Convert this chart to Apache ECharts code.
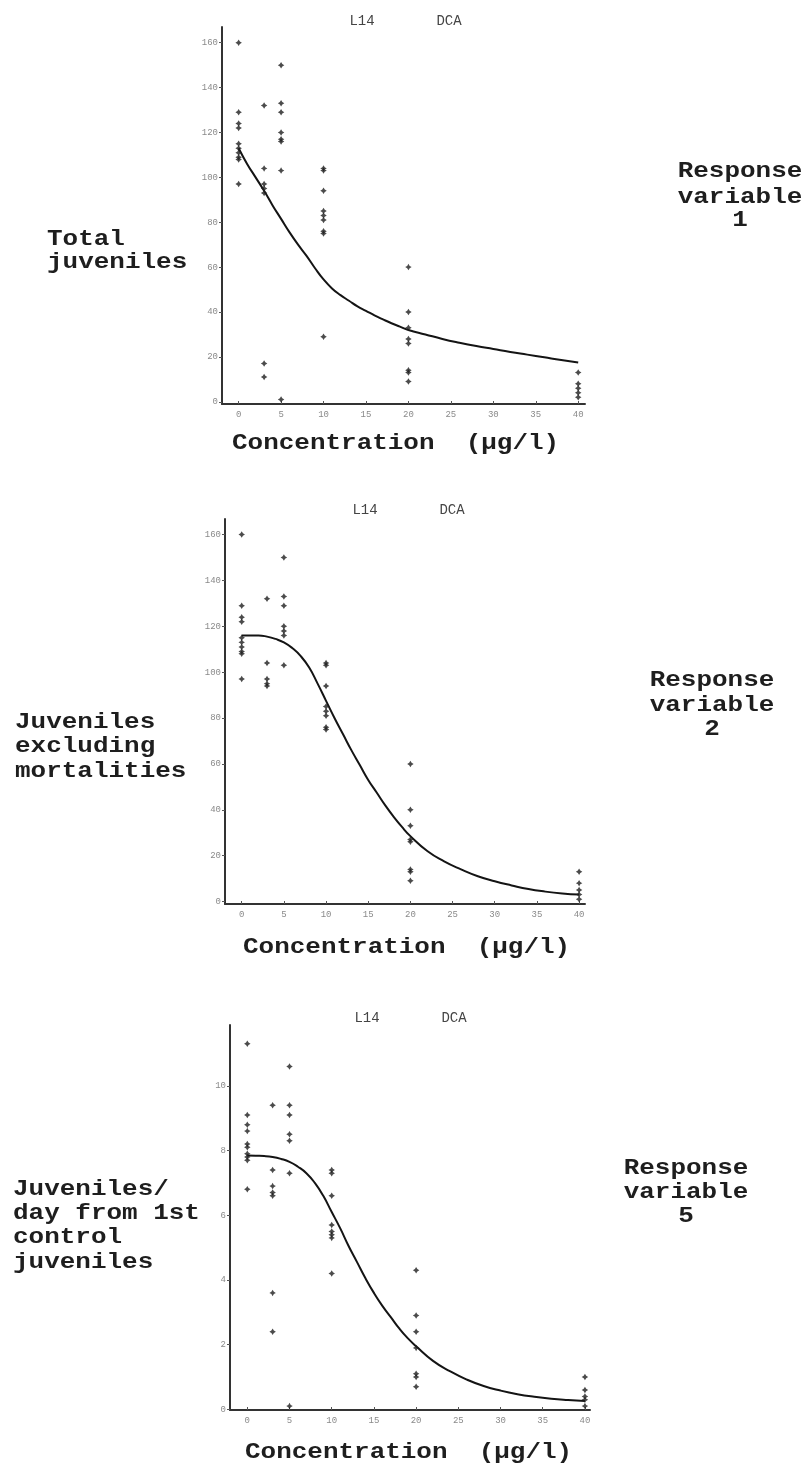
<!DOCTYPE html>
<html>
<head>
<meta charset="utf-8">
<title>L14 DCA concentration response</title>
<script src="https://cdn.jsdelivr.net/npm/echarts@6/dist/echarts.min.js"></script>
<style>
  html, body { margin: 0; padding: 0; background: #ffffff; }
  #chart { width: 809px; height: 1465px; }
</style>
</head>
<body>
<div id="chart"></div>
<script>
// Test concentrations (µg/l); each row of a response array holds the replicates at one level
const concLevels = [0, 3, 5, 10, 20, 40];

// Response variable 1: total juveniles
const totalJuveniles = [
  [160, 129, 124, 122, 115, 113, 111, 109, 108, 97],
  [132, 104, 97, 95, 93, 17, 11],
  [150, 133, 129, 120, 117, 116, 103, 1],
  [104, 103, 94, 85, 83, 81, 76, 75, 29],
  [60, 40, 33, 28, 26, 14, 13, 9],
  [13, 8, 6, 4, 2]
];

// Response variable 2: juveniles excluding mortalities
const juvExclMortality = [
  [160, 129, 124, 122, 115, 113, 111, 109, 108, 97],
  [132, 104, 97, 95, 94],
  [150, 133, 129, 120, 118, 116, 103],
  [104, 103, 94, 85, 83, 81, 76, 75],
  [60, 40, 33, 27, 26, 14, 13, 9],
  [13, 8, 5, 3, 1]
];

// Response variable 5: juveniles/day from 1st control juveniles
const juvPerDay = [
  [11.3, 9.1, 8.8, 8.6, 8.2, 8.1, 7.9, 7.8, 7.7, 6.8],
  [9.4, 7.4, 6.9, 6.7, 6.6, 3.6, 2.4],
  [10.6, 9.4, 9.1, 8.5, 8.3, 7.3, 0.1],
  [7.4, 7.3, 6.6, 5.7, 5.5, 5.4, 5.3, 4.2],
  [4.3, 2.9, 2.4, 1.9, 1.1, 1.0, 0.7],
  [1.0, 0.6, 0.4, 0.3, 0.1]
];

// Fitted concentration-response curves, sampled at these concentrations
const curveConc = [0, 1, 2, 3, 4, 5, 6, 7, 8, 9, 10, 11, 12, 13, 14, 15, 16, 17, 18, 19, 20,
                   22, 24, 26, 28, 30, 32, 34, 36, 38, 40];
const curveTotal = [113, 106, 100, 94, 87.5, 81.5, 75.5, 70, 65, 59.5, 54.5, 50.5, 47.5, 45, 42.5,
                    40.5, 38.5, 36.7, 35, 33.5, 32, 30, 28, 26.3, 24.8, 23.5, 22.2, 21, 19.8, 18.6, 17.5];
const curveExcl = [116, 116, 116, 115.5, 114.5, 113, 110.5, 107, 102, 95, 87.5, 80, 73, 66, 59.5,
                   53, 47.5, 42, 37, 32.5, 28.5, 22, 17.5, 14, 11, 8.8, 7, 5.4, 4.3, 3.5, 3];
const curvePerDay = [7.85, 7.84, 7.83, 7.8, 7.74, 7.65, 7.5, 7.3, 7.0, 6.6, 6.1, 5.6, 5.05, 4.55, 4.05,
                     3.6, 3.2, 2.85, 2.5, 2.2, 1.95, 1.5, 1.18, 0.92, 0.72, 0.58, 0.47, 0.39, 0.33, 0.29, 0.26];

// Tick labels
const concTicks = [0, 5, 10, 15, 20, 25, 30, 35, 40];
const countTicks = [0, 20, 40, 60, 80, 100, 120, 140, 160];
const rateTicks = [0, 2, 4, 6, 8, 10];

// Text blocks
const headerLeft = 'L14';
const headerRight = 'DCA';
const xTitle = 'Concentration  (µg/l)';
const yTitles = [
  ['Total', 'juveniles'],
  ['Juveniles', 'excluding', 'mortalities'],
  ['Juveniles/', 'day from 1st', 'control', 'juveniles']
];
const responseLabels = [
  ['Response', 'variable', '1'],
  ['Response', 'variable', '2'],
  ['Response', 'variable', '5']
];

const chart = echarts.init(document.getElementById('chart'), null, { renderer: 'canvas' });

const ink = '#1e1e1e';
// Wide typewriter lettering: a slightly smaller mono face stretched horizontally
const bigFont = 'bold 22px "Liberation Mono", "DejaVu Sans Mono", monospace';
const bigStretch = 1.18;
const headFont = '14px "Liberation Mono", "DejaVu Sans Mono", monospace';

function scatterData(values) {
  const out = [];
  values.forEach((row, i) => row.forEach(v => out.push([concLevels[i], v])));
  return out;
}
function curveData(ys) {
  return curveConc.map((x, i) => [x, ys[i]]);
}

// Panel geometry
const panels = [
  { grid: { left: 222, top: 27, width: 363, height: 377 }, x: [-1.96, 40.8], y: [-1, 167], yTicks: countTicks,
    pts: totalJuveniles, curve: curveTotal },
  { grid: { left: 225, top: 519, width: 360, height: 385 }, x: [-1.98, 40.7], y: [-1.1, 166.8], yTicks: countTicks,
    pts: juvExclMortality, curve: curveExcl },
  { grid: { left: 230, top: 1025, width: 360, height: 385 }, x: [-2.05, 40.6], y: [-0.02, 11.88], yTicks: rateTicks,
    pts: juvPerDay, curve: curvePerDay }
];

const tickLabelStyle = { color: '#8a8a8a', fontSize: 9, fontFamily: '"Liberation Mono", monospace' };
const axisLineStyle = { color: '#333333', width: 2 };

const option = {
  backgroundColor: '#ffffff',
  animation: false,
  grid: panels.map(p => Object.assign({ containLabel: false }, p.grid)),
  xAxis: panels.map((p, i) => ({
    type: 'value', gridIndex: i, min: p.x[0], max: p.x[1],
    axisLine: { show: true, onZero: false, lineStyle: axisLineStyle },
    axisTick: { show: true, inside: true, length: 3, customValues: concTicks, lineStyle: { color: '#555', width: 1 } },
    axisLabel: Object.assign({ margin: 6, customValues: concTicks }, tickLabelStyle),
    splitLine: { show: false }
  })),
  yAxis: panels.map((p, i) => ({
    type: 'value', gridIndex: i, min: p.y[0], max: p.y[1],
    axisLine: { show: true, onZero: false, lineStyle: axisLineStyle },
    axisTick: { show: true, inside: false, length: 3, customValues: p.yTicks, lineStyle: { color: '#555', width: 1 } },
    axisLabel: Object.assign({ margin: 4, customValues: p.yTicks }, tickLabelStyle),
    splitLine: { show: false }
  })),
  series: panels.flatMap((p, i) => [
    {
      type: 'line', xAxisIndex: i, yAxisIndex: i,
      data: curveData(p.curve), smooth: true, showSymbol: false,
      lineStyle: { color: '#141414', width: 2 }, z: 2
    },
    {
      type: 'scatter', xAxisIndex: i, yAxisIndex: i,
      data: scatterData(p.pts),
      symbol: 'path://M5,0 L6.9,3.1 L10,5 L6.9,6.9 L5,10 L3.1,6.9 L0,5 L3.1,3.1 Z',
      symbolSize: 6.5,
      itemStyle: { color: ink }, z: 3
    }
  ]),
  graphic: []
};

function addText(text, x, y, font, align, color, stretch) {
  option.graphic.push({
    type: 'text', x: x, y: y, silent: true, scaleX: stretch || 1,
    style: { text: text, font: font, fill: color || ink, align: align || 'left', verticalAlign: 'middle' }
  });
}

// Headers above each panel
[[362, 21], [365, 510], [367, 1018]].forEach(([hx, hy]) => {
  addText(headerLeft, hx, hy, headFont, 'center', '#444');
  addText(headerRight, hx + 87, hy, headFont, 'center', '#444');
});

// Y titles on the left
const yTitlePos = [
  { x: 47, ys: [239.5, 262.5] },
  { x: 15, ys: [722, 746, 771] },
  { x: 13, ys: [1189, 1213.5, 1237.5, 1262] }
];
yTitles.forEach((lines, i) => {
  lines.forEach((t, j) => addText(t, yTitlePos[i].x, yTitlePos[i].ys[j], bigFont, 'left', ink, bigStretch));
});

// Response-variable labels on the right
const respPos = [
  { x: 740, ys: [171, 197, 220] },
  { x: 712, ys: [680, 705, 729] },
  { x: 686, ys: [1168, 1192, 1216] }
];
responseLabels.forEach((lines, i) => {
  lines.forEach((t, j) => addText(t, respPos[i].x, respPos[i].ys[j], bigFont, 'center', ink, bigStretch));
});

// X titles below each panel
[[232, 443], [243, 947], [245, 1452]].forEach(([tx, ty]) => addText(xTitle, tx, ty, bigFont, 'left', ink, bigStretch));

chart.setOption(option);
</script>
</body>
</html>
